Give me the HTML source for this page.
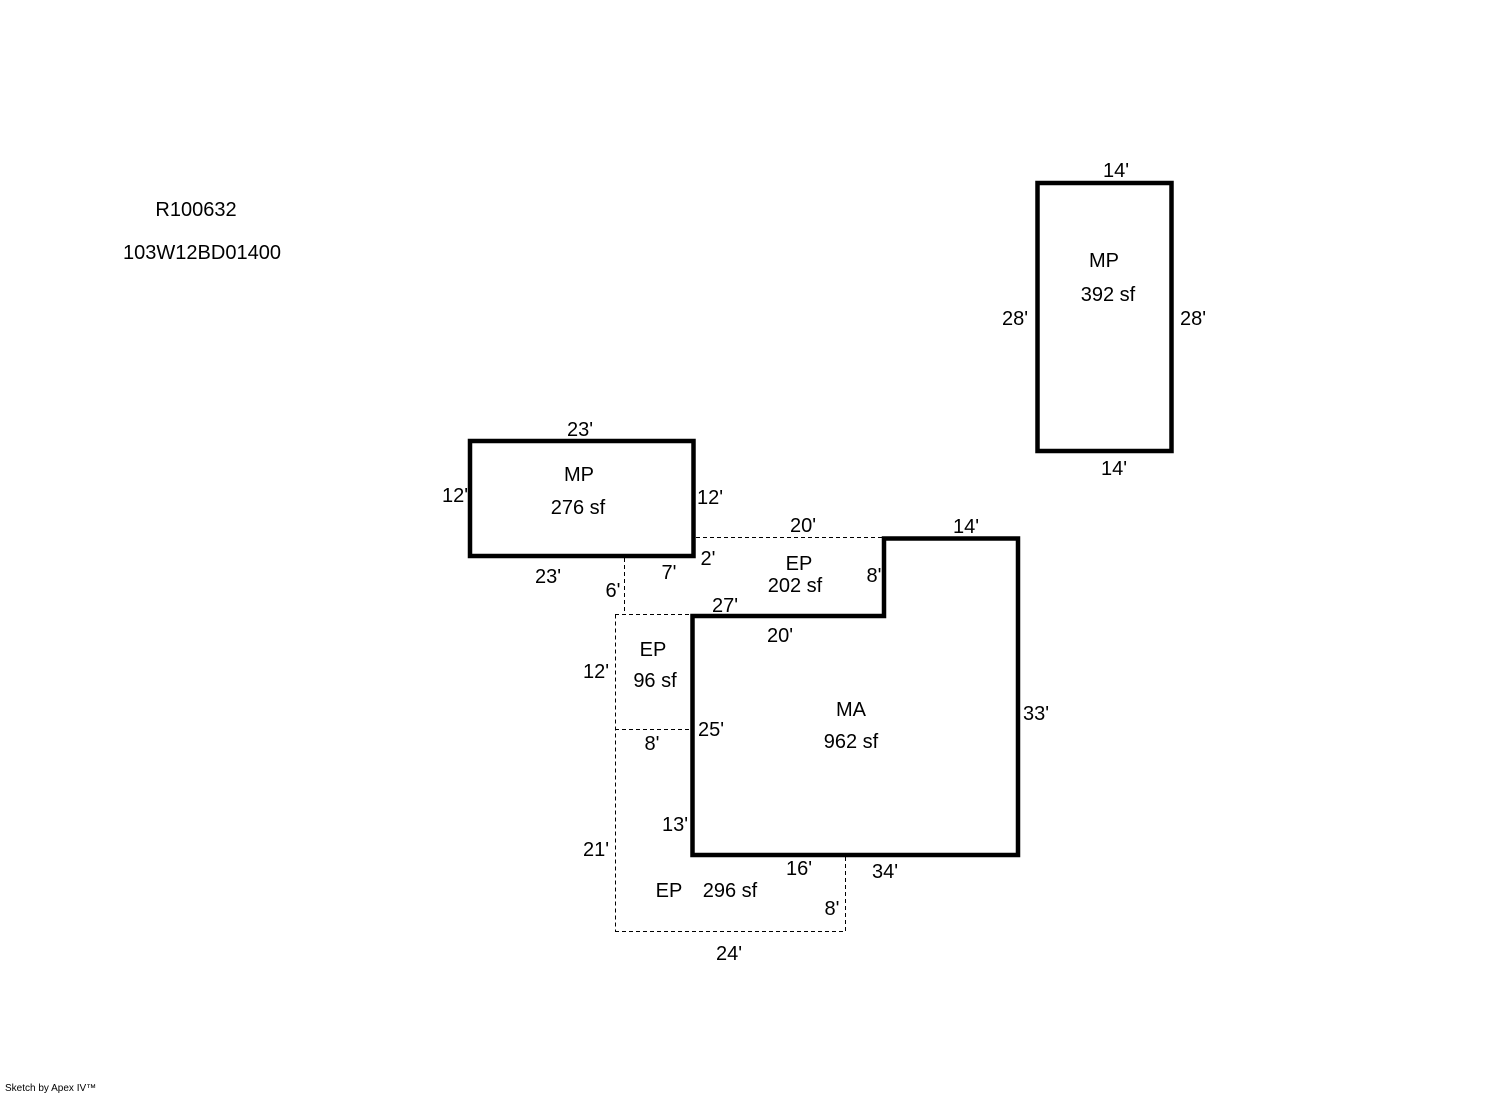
<!DOCTYPE html>
<html><head><meta charset="utf-8"><style>
html,body{margin:0;padding:0;background:#fff;}
svg{display:block;}
text{font-family:"Liberation Sans",Arial,sans-serif;font-size:20px;fill:#000;text-anchor:middle;}
</style></head><body>
<svg width="1492" height="1094" viewBox="0 0 1492 1094" xmlns="http://www.w3.org/2000/svg">
<rect x="0" y="0" width="1492" height="1094" fill="#fff"/>
<g fill="none" stroke="#000" stroke-width="1" stroke-dasharray="4,3">
<line x1="696" y1="537.5" x2="884" y2="537.5"/>
<line x1="624.5" y1="558" x2="624.5" y2="614.5"/>
<line x1="615" y1="614.5" x2="692" y2="614.5"/>
<line x1="615.5" y1="614.5" x2="615.5" y2="931"/>
<line x1="615" y1="729.5" x2="692" y2="729.5"/>
<line x1="615" y1="931.5" x2="846" y2="931.5"/>
<line x1="845.5" y1="857" x2="845.5" y2="931"/>
</g>
<g fill="none" stroke="#000" stroke-width="4.5" stroke-linejoin="miter">
<rect x="1037.5" y="183" width="134" height="268"/>
<rect x="470" y="441" width="223.5" height="115"/>
<polygon points="692.5,616 884,616 884,538.5 1018,538.5 1018,855 692.5,855"/>
</g>
<text x="196" y="216">R100632</text>
<text x="202" y="259">103W12BD01400</text>

<text x="1116" y="177">14'</text>
<text x="1104" y="267">MP</text>
<text x="1108" y="301">392 sf</text>
<text x="1015" y="325">28'</text>
<text x="1193" y="325">28'</text>
<text x="1114" y="475">14'</text>

<text x="580" y="436">23'</text>
<text x="579" y="481">MP</text>
<text x="578" y="514">276 sf</text>
<text x="455" y="502">12'</text>
<text x="710" y="504">12'</text>
<text x="548" y="583">23'</text>

<text x="803" y="532">20'</text>
<text x="966" y="533">14'</text>
<text x="708" y="565">2'</text>
<text x="799" y="570">EP</text>
<text x="795" y="592">202 sf</text>
<text x="874" y="582">8'</text>
<text x="669" y="579">7'</text>
<text x="613" y="597">6'</text>
<text x="725" y="612">27'</text>
<text x="780" y="642">20'</text>

<text x="653" y="656">EP</text>
<text x="655" y="687">96 sf</text>
<text x="596" y="678">12'</text>

<text x="851" y="716">MA</text>
<text x="851" y="748">962 sf</text>
<text x="1036" y="720">33'</text>
<text x="711" y="736">25'</text>
<text x="652" y="750">8'</text>
<text x="675" y="831">13'</text>
<text x="596" y="856">21'</text>
<text x="799" y="875">16'</text>
<text x="885" y="878">34'</text>
<text x="669" y="897">EP</text>
<text x="730" y="897">296 sf</text>
<text x="832" y="915">8'</text>
<text x="729" y="960">24'</text>

<text x="5" y="1091" style="font-size:10px;text-anchor:start">Sketch by Apex IV™</text>
</svg>
</body></html>
